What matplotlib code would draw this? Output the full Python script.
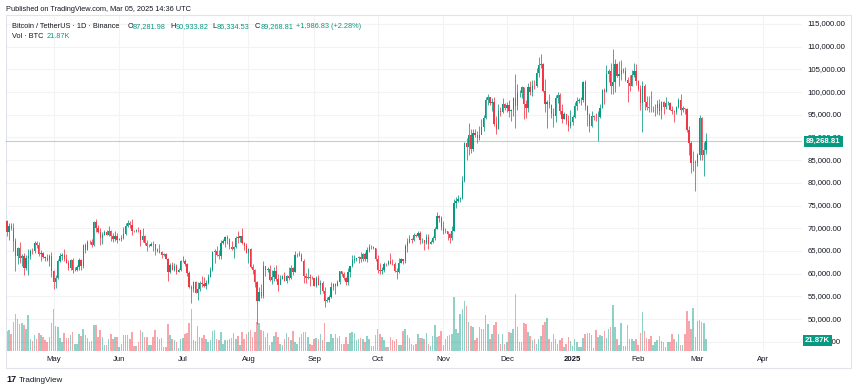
import numpy as np
import pandas as pd
import matplotlib
matplotlib.use("Agg")
import matplotlib.pyplot as plt
from matplotlib.patches import Rectangle

plt.rcParams['font.family'] = ['Liberation Sans', 'DejaVu Sans']

# BTC/USDT daily, Binance, 2024-04-09 .. 2025-03-05 (prices in thousands of USDT)
start = "2024-04-09"
first_open = 71.62

close = [
    69.14, 70.59, 70.06, 67.19, 63.90, 65.74, 63.43, 63.81, 61.28, 63.51, 63.84, 64.99, 64.94, 66.84, 66.41, 64.28, 64.50, 63.77, 63.46, 63.12, 63.84, 60.64,
    58.25, 59.12, 62.89, 63.89, 64.03, 63.16, 62.33, 61.19, 63.07, 60.79, 60.82, 61.48, 62.94, 61.58, 66.27, 65.23, 67.05, 66.94, 66.27, 71.45, 70.14, 69.12, 67.93, 68.53, 69.26, 68.51, 69.39, 68.37, 67.63, 68.35, 67.49,
    67.71, 67.75, 68.80, 70.56, 71.08, 70.76, 69.34, 69.30, 69.65, 69.51, 67.32, 68.24, 66.75, 66.01, 66.19, 66.64, 66.49, 65.14, 64.96, 64.83, 64.10, 64.25, 63.18, 60.28, 61.80, 60.86, 61.68, 60.32, 60.89, 62.68,
    62.77, 62.02, 60.15, 57.04, 56.63, 58.23, 55.85, 56.70, 58.04, 57.72, 57.34, 57.88, 59.20, 60.79, 64.72, 65.04, 64.09, 63.99, 66.66, 67.14, 68.17, 67.55, 65.93, 65.37, 65.78, 67.91, 67.89, 68.25, 66.78, 66.19, 64.62,
    65.35, 61.50, 60.70, 58.16, 54.02, 56.03, 55.13, 61.69, 60.84, 60.92, 58.71, 59.35, 60.60, 58.74, 57.56, 58.88, 59.48, 58.43, 59.46, 59.01, 61.16, 60.38, 64.09, 64.17, 64.22, 62.83, 59.42, 59.03, 59.36, 59.12, 58.97,
    57.32, 59.13, 57.48, 57.97, 56.16, 53.96, 54.16, 54.87, 57.04, 57.65, 57.34, 58.13, 60.57, 60.00, 59.13, 58.21, 60.31, 61.76, 62.95, 63.20, 63.35, 63.58, 63.33, 64.30, 63.14, 65.18, 65.79, 65.88, 65.60, 63.33,
    60.80, 60.65, 60.75, 62.09, 62.06, 62.82, 62.22, 62.13, 60.58, 60.27, 62.45, 63.19, 62.85, 66.05, 67.04, 67.61, 67.40, 68.42, 68.36, 69.00, 67.37, 67.38, 66.65, 68.16, 66.64, 67.01, 67.93, 69.91, 72.72, 72.34, 70.22,
    69.50, 69.37, 68.78, 67.81, 69.36, 75.64, 75.90, 76.54, 76.69, 80.37, 88.70, 87.96, 90.48, 87.38, 91.06, 90.58, 89.85, 90.46, 92.31, 94.29, 98.32, 98.89, 97.67, 97.90, 93.01, 91.96, 95.86, 95.64, 97.46, 96.41,
    97.19, 95.84, 95.99, 98.60, 96.95, 99.81, 99.87, 101.11, 97.34, 96.59, 101.12, 100.04, 101.42, 101.37, 104.30, 106.05, 106.14, 100.20, 97.46, 97.76, 97.22, 95.10, 94.69, 98.63, 99.35, 95.76, 94.16, 95.16, 93.53, 92.64, 93.43,
    94.59, 96.89, 98.11, 98.24, 98.36, 102.24, 96.95, 95.04, 92.48, 94.70, 94.56, 94.49, 94.52, 96.53, 100.50, 99.99, 104.08, 104.55, 101.33, 102.26, 106.14, 103.65, 103.96, 104.82, 104.71, 102.57, 102.08, 101.29, 103.73, 104.73, 102.43,
    100.64, 97.69, 101.40, 97.87, 96.62, 96.55, 96.46, 96.46, 96.51, 97.43, 95.78, 97.87, 96.62, 97.51, 97.57, 96.12, 95.77, 95.54, 96.65, 98.34, 96.13, 96.58, 96.27, 91.55, 88.74, 84.35, 84.70, 84.37,
    86.06, 94.27, 86.22, 87.28198, 89.26881,
]

high = [
    71.76, 71.17, 71.23, 71.26, 67.93, 65.84, 66.87, 64.36, 64.47, 64.12, 65.45, 65.42, 65.67, 67.23, 67.21, 67.08, 65.29, 64.79, 63.92, 64.36, 64.24, 64.73,
    60.78, 59.60, 63.32, 64.49, 64.65, 65.50, 64.42, 62.99, 63.25, 63.46, 61.49, 61.82, 63.45, 63.13, 66.44, 66.70, 67.44, 67.40, 67.70, 71.52, 71.98, 70.63, 70.04, 69.22, 69.56, 69.51, 70.61, 69.56, 68.91, 69.50, 69.02,
    67.86, 68.46, 70.29, 71.06, 71.76, 71.62, 71.98, 69.56, 69.85, 70.20, 69.56, 69.99, 68.45, 67.31, 66.45, 66.97, 67.25, 66.08, 65.73, 66.48, 65.07, 64.53, 64.52, 63.37, 62.29, 62.48, 62.37, 62.18, 61.20, 63.06,
    63.86, 63.30, 62.31, 60.50, 57.55, 58.47, 58.36, 58.24, 58.30, 59.47, 59.36, 58.53, 59.83, 61.42, 64.90, 65.39, 66.13, 65.11, 67.39, 67.66, 68.37, 68.48, 67.82, 67.10, 66.18, 68.24, 69.40, 68.32, 70.08, 66.99, 66.84,
    65.59, 65.60, 62.18, 61.12, 58.31, 57.02, 57.72, 62.75, 61.75, 61.47, 61.86, 60.73, 61.57, 61.80, 59.85, 59.79, 59.65, 60.26, 59.61, 61.40, 61.81, 61.42, 64.96, 64.52, 65.00, 64.48, 63.21, 60.23, 61.17, 59.82, 59.46,
    59.06, 59.40, 59.81, 58.52, 58.33, 56.99, 54.85, 55.30, 58.10, 58.04, 57.99, 58.60, 60.67, 60.65, 60.38, 59.21, 61.32, 61.79, 64.13, 64.12, 63.56, 64.00, 64.75, 64.48, 64.82, 65.84, 66.50, 66.26, 66.08, 65.70,
    64.13, 62.39, 61.47, 62.48, 62.37, 62.97, 64.48, 63.17, 62.54, 61.32, 63.42, 63.48, 63.29, 66.50, 67.95, 68.42, 67.94, 68.98, 68.69, 69.40, 69.50, 67.84, 67.46, 68.83, 68.77, 67.45, 68.33, 70.27, 73.62, 72.96, 72.70,
    71.63, 70.00, 69.42, 69.01, 70.58, 76.46, 76.85, 77.25, 76.93, 81.50, 89.00, 89.96, 93.27, 91.76, 91.85, 91.80, 91.45, 92.59, 94.00, 94.90, 98.98, 99.59, 98.77, 98.65, 98.87, 94.74, 97.36, 96.65, 98.69, 97.50,
    97.90, 98.15, 96.30, 99.00, 104.09, 101.89, 100.55, 101.42, 101.20, 98.27, 101.90, 102.54, 102.65, 102.63, 105.25, 107.79, 108.35, 106.47, 102.80, 98.15, 99.54, 97.43, 96.42, 99.40, 99.96, 99.88, 97.29, 95.53, 95.22, 94.90, 96.15,
    94.93, 97.84, 98.98, 98.73, 98.81, 102.48, 102.72, 97.26, 95.35, 95.84, 95.04, 95.38, 95.94, 97.37, 100.68, 100.87, 105.86, 104.99, 106.31, 109.59, 107.24, 106.33, 106.85, 107.10, 105.29, 105.47, 103.22, 103.78, 104.78, 106.46, 106.09,
    102.75, 101.46, 102.50, 101.73, 99.11, 99.20, 100.14, 96.88, 97.32, 98.35, 98.47, 98.12, 98.08, 98.83, 97.97, 97.73, 97.04, 96.00, 96.90, 98.73, 99.50, 96.88, 96.50, 96.54, 92.49, 89.28, 87.00, 85.12,
    86.56, 95.00, 94.42, 88.91, 90.93382,
]

low = [
    68.21, 67.52, 69.55, 65.09, 60.66, 62.13, 62.30, 61.71, 59.77, 60.83, 59.60, 63.17, 64.23, 64.50, 65.75, 63.80, 62.79, 63.45, 62.81, 62.79, 61.77, 59.19,
    56.55, 56.94, 58.85, 62.59, 62.96, 62.70, 62.25, 60.89, 60.73, 60.18, 60.49, 60.63, 60.76, 60.88, 61.33, 64.60, 65.11, 66.60, 65.86, 66.06, 69.16, 68.85, 66.30, 66.63, 68.51, 68.47, 68.23, 67.20, 67.08, 67.12, 66.67,
    67.44, 67.30, 67.61, 68.56, 70.38, 70.12, 68.50, 69.21, 69.13, 69.24, 66.05, 66.90, 66.30, 65.08, 65.84, 66.02, 65.07, 64.06, 64.69, 64.52, 63.38, 63.95, 63.15, 58.40, 60.24, 60.71, 60.63, 60.00, 60.32, 60.66,
    62.50, 61.74, 59.45, 56.78, 53.50, 56.02, 55.77, 54.26, 56.28, 57.16, 57.06, 56.54, 57.75, 59.18, 60.63, 62.37, 63.87, 63.24, 63.30, 66.45, 65.77, 66.55, 65.39, 65.11, 63.45, 65.72, 66.70, 67.07, 66.50, 65.30, 64.52,
    62.25, 61.21, 59.85, 57.12, 49.00, 53.96, 54.56, 54.72, 59.57, 60.28, 58.41, 57.64, 58.49, 58.43, 56.08, 57.80, 58.79, 58.42, 57.86, 58.58, 58.78, 59.72, 60.35, 63.57, 63.80, 62.81, 58.03, 57.86, 58.75, 57.30, 58.74,
    57.20, 57.13, 57.42, 55.61, 55.67, 52.55, 53.75, 53.65, 54.60, 56.38, 55.55, 57.32, 57.63, 59.42, 58.70, 57.49, 57.61, 59.17, 61.56, 62.35, 62.76, 62.36, 62.60, 62.70, 62.69, 62.67, 64.84, 65.42, 65.43, 62.86,
    60.16, 59.98, 59.83, 60.46, 61.68, 61.84, 62.13, 61.82, 60.31, 58.90, 60.05, 62.42, 62.05, 62.42, 64.80, 66.75, 66.67, 67.16, 68.05, 68.13, 66.57, 66.75, 65.26, 66.44, 65.52, 66.55, 66.76, 67.52, 69.73, 71.44, 69.69,
    68.82, 69.02, 67.46, 66.84, 67.46, 69.32, 74.41, 75.76, 75.72, 76.49, 80.22, 85.07, 86.09, 86.67, 87.07, 90.09, 88.72, 89.38, 90.89, 91.50, 94.10, 97.18, 97.18, 95.73, 92.60, 90.77, 91.81, 94.65, 95.38, 96.06,
    95.66, 94.50, 93.58, 94.66, 92.12, 95.98, 98.94, 98.64, 94.15, 94.26, 95.69, 99.31, 99.21, 100.61, 101.23, 103.33, 105.32, 100.00, 95.70, 92.18, 96.40, 94.20, 92.40, 93.40, 97.60, 95.14, 93.25, 94.08, 92.98, 91.32, 92.00,
    92.70, 94.39, 96.03, 97.52, 97.23, 97.91, 96.13, 92.50, 91.20, 92.21, 93.83, 93.71, 89.26, 94.33, 96.50, 97.28, 99.95, 102.28, 99.52, 99.55, 100.12, 103.26, 101.26, 102.75, 104.10, 102.45, 97.78, 100.27, 101.33, 103.29, 101.54,
    100.28, 96.15, 91.23, 96.15, 96.15, 95.68, 95.65, 95.69, 94.75, 95.26, 94.85, 94.09, 95.21, 96.25, 97.23, 96.05, 95.21, 93.39, 95.08, 96.45, 94.87, 95.71, 95.20, 91.20, 86.05, 82.26, 82.72, 78.26,
    83.82, 85.04, 85.08, 81.53, 86.33453,
]

# volume in thousands of BTC
volume = [
    37, 40, 31, 54, 69, 59, 51, 52, 49, 42, 67, 22, 19, 30, 22, 33, 30, 26, 21, 17,
    27, 52, 78, 47, 44, 24, 17, 34, 25, 25, 30, 36, 13, 13, 32, 28, 42, 30, 25, 16,
    19, 49, 49, 27, 39, 27, 12, 11, 22, 32, 22, 27, 26, 8, 14, 29, 29, 29, 22, 35,
    9, 9, 17, 40, 36, 27, 27, 11, 11, 27, 40, 27, 22, 24, 8, 8, 51, 30, 22, 21,
    17, 6,
    22, 25, 31, 34, 52, 78, 21, 19, 47, 27, 24, 29, 22, 16, 21, 37, 40, 22, 21, 35,
    14, 21, 21, 22, 24, 34, 22, 28, 11, 35, 22, 31, 35, 39, 27, 35, 54, 52, 40, 37,
    27, 33, 11, 17, 28, 36, 27, 13, 11, 22, 33, 27, 21, 37, 17, 14, 27, 31, 35, 35,
    27, 14, 12, 22, 24, 22, 31, 21, 52, 17, 17, 31, 24, 31, 24, 28, 14, 13, 27, 14,
    33, 35, 33, 21, 22,
    24, 22, 17, 28, 22, 9, 9, 29, 42, 32, 26, 21, 8, 8, 26, 21, 19, 22, 11, 11,
    37, 42, 30, 25, 14, 11, 13, 31, 24, 24, 22, 34, 14, 9, 28, 49, 27, 28, 37, 11,
    23, 28, 30, 32, 100, 42, 34, 69, 78, 93, 85, 55, 47, 44, 21, 24, 45, 41, 41, 67,
    51, 22, 31, 49, 55, 31, 14, 31, 14, 17, 36, 34, 42, 107, 44, 16, 16, 52, 50, 36,
    28, 21, 22, 14, 22,
    28, 49, 54, 61, 22, 17, 32, 22, 14, 21, 25, 8, 14, 26, 19, 10, 22, 16, 8, 8,
    24, 32, 34, 34, 30, 6, 40, 27, 29, 28, 37, 24, 42, 44, 86, 44, 22, 11, 52, 9,
    9, 49, 22, 22, 19, 22, 12, 34, 73, 38, 25, 22, 28, 11, 16, 21, 28, 19, 17, 8,
    17, 17, 32, 22, 17, 32, 11, 11, 32, 75, 56, 41, 81, 26, 56, 58, 54, 53, 21.87,
]

month_starts = ["2024-05-01", "2024-06-01", "2024-07-01", "2024-08-01", "2024-09-01", "2024-10-01",
                "2024-11-01", "2024-12-01", "2025-01-01", "2025-02-01", "2025-03-01", "2025-04-01"]
month_labels = ["May", "Jun", "Jul", "Aug", "Sep", "Oct", "Nov", "Dec", "2025", "Feb", "Mar", "Apr"]
price_ticks = np.arange(45000, 115001, 5000)

UP = "#089981"
DOWN = "#F23645"
TXT = "#131722"

c = np.array(close) * 1000
h = np.array(high) * 1000
l = np.array(low) * 1000
o = np.concatenate([[first_open], close[:-1]]) * 1000
v = np.array(volume)
x = np.arange(len(c))
up = c >= o
cols = np.where(up, UP, DOWN)

W, H = 857, 391
fig = plt.figure(figsize=(W / 100, H / 100), dpi=100)


def fx(px):
    return px / W


def fy(py):
    return 1 - py / H


# pane: x 6..802 px, y 15..351 px
ymin, ymax = 42963, 116984
vmax = 628
ax = fig.add_axes([fx(6), fy(351), fx(802) - fx(6), fy(15) - fy(351)])
axv = ax.twinx()
ax.set_zorder(axv.get_zorder() + 1)
ax.patch.set_visible(False)

ax.set_xlim(-0.47, 375.35)
ax.set_ylim(ymin, ymax)
axv.set_ylim(0, vmax)

# grid (drawn on the volume axes so it sits behind the bars)
for p in price_ticks:
    axv.axhline((p - ymin) / (ymax - ymin) * vmax, color="#f3f3f3", lw=0.8, zorder=0)
d0 = pd.Timestamp(start)
mpos = [(pd.Timestamp(m) - d0).days for m in month_starts]
for mp in mpos:
    axv.axvline(mp, color="#f3f3f3", lw=0.8, zorder=0)

# volume
axv.bar(x, v, width=0.72, color=cols, alpha=0.45, linewidth=0, zorder=1)

# candles
ax.vlines(x, l, h, colors=cols, lw=0.55, zorder=2)
body = np.maximum(np.abs(c - o), 80)
ax.bar(x, body, bottom=np.minimum(o, c), width=0.62, color=cols, linewidth=0, zorder=3)

# last price line
ax.axhline(c[-1], color=UP, lw=0.8, alpha=0.35, zorder=1)

for a in (ax, axv):
    a.set_xticks([])
    a.set_yticks([])
    for s in a.spines.values():
        s.set_visible(False)

# price scale
for p in price_ticks:
    ax.text(1.0067, p, f"{p:,.2f}", transform=ax.get_yaxis_transform(), ha="left", va="center",
            fontsize=5.6, color=TXT, clip_on=False)

# time scale
for mp, lab in zip(mpos, month_labels):
    ax.text(mp, -0.025, lab, transform=ax.get_xaxis_transform(), ha="center", va="center",
            fontsize=5.6, color=TXT, fontweight="bold" if lab == "2025" else "normal", clip_on=False)

# last value tags
fig.text(fx(806), fy(141.5), f"{c[-1]:,.2f}", color="white", fontsize=5.6, fontweight="bold", va="center",
         bbox=dict(boxstyle="square,pad=0.28", fc=UP, ec="none"))
fig.text(fx(805), fy(340.5), f"{v[-1]:.2f}K", color="white", fontsize=5.6, fontweight="bold", va="center",
         bbox=dict(boxstyle="square,pad=0.28", fc=UP, ec="none"))

# frame
fig.add_artist(Rectangle((fx(6), fy(368)), fx(851) - fx(6), fy(15) - fy(368), transform=fig.transFigure,
                         fill=False, ec="#e0e3eb", lw=0.8))

# header
fig.text(fx(6), fy(9.5), "Published on TradingView.com, Mar 05, 2025 14:36 UTC", fontsize=5.3, color=TXT, va="center")
row1 = [(11.5, "Bitcoin / TetherUS · 1D · Binance", TXT),
        (127.5, "O", TXT), (132.5, f"{o[-1]:,.2f}", UP),
        (170, "H", TXT), (175.5, f"{h[-1]:,.2f}", UP),
        (212.5, "L", TXT), (217, f"{l[-1]:,.2f}", UP),
        (255, "C", TXT), (260.5, f"{c[-1]:,.2f}", UP),
        (296, f"{c[-1] - o[-1]:+,.2f} ({(c[-1] - o[-1]) / o[-1] * 100:+.2f}%)", UP)]
for px_, s, col in row1:
    fig.text(fx(px_), fy(27), s, fontsize=5.3, color=col, va="center")
fig.text(fx(11.5), fy(37), "Vol · BTC", fontsize=5.3, color=TXT, va="center")
fig.text(fx(46.5), fy(37), f"{v[-1]:.2f}K", fontsize=5.3, color=UP, va="center")

# footer logo
fig.text(fx(6), fy(380), "17", fontsize=6.5, fontweight="bold", color=TXT, va="center")
fig.text(fx(19), fy(380), "TradingView", fontsize=5.8, color=TXT, va="center")

fig.savefig("out.png", dpi=100, facecolor="white")
